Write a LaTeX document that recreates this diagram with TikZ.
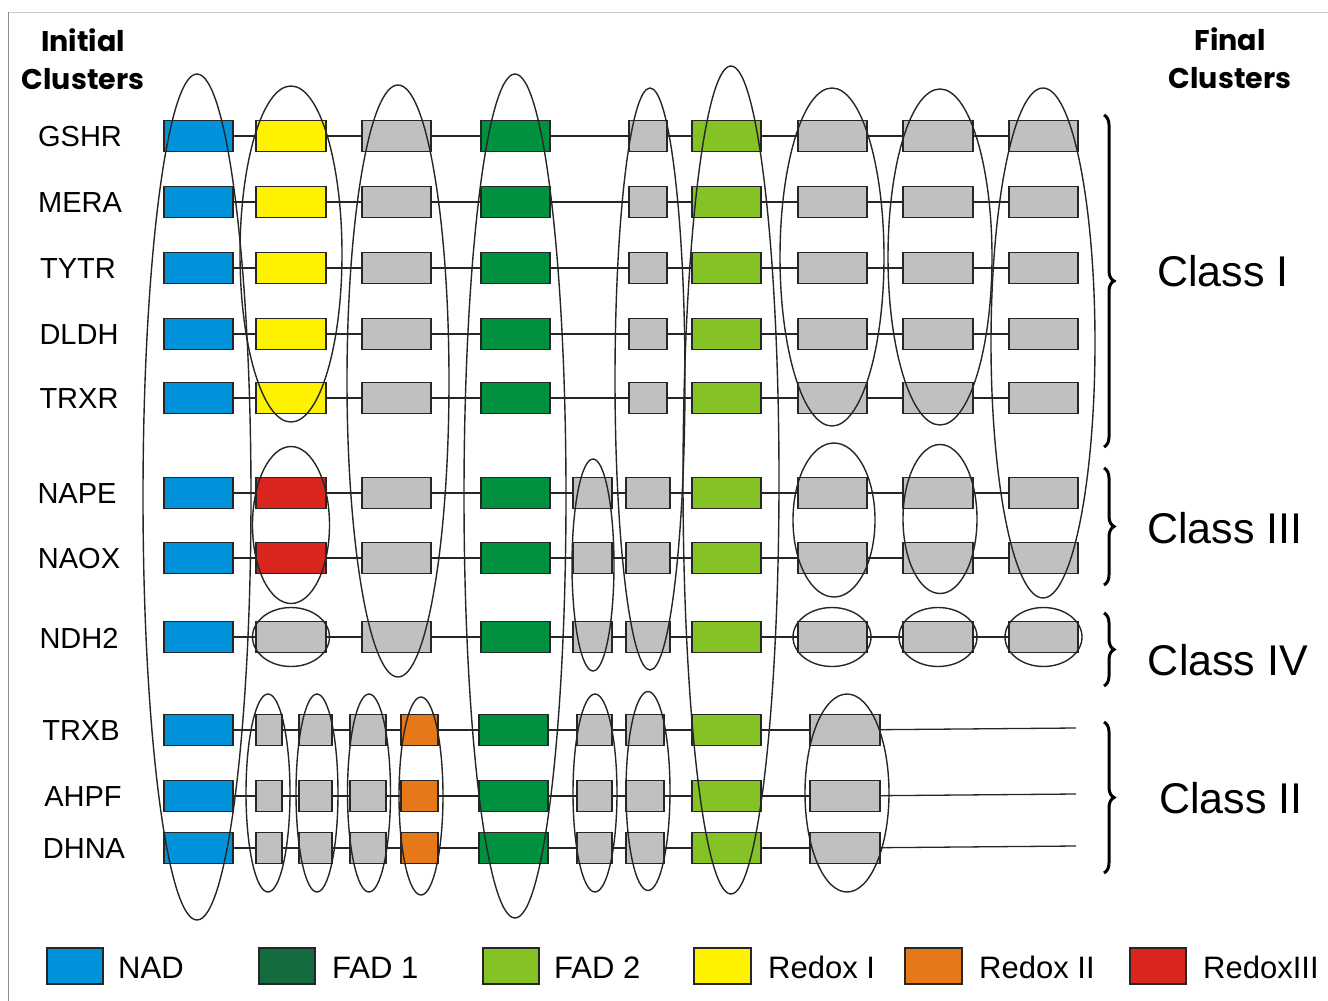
\documentclass[tikz,border=0pt]{standalone}
\usepackage{fontspec}
\setmainfont{Liberation Sans}
\newfontfamily\headfont{Poppins}
\usetikzlibrary{decorations.pathreplacing}

\definecolor{nadblue}{RGB}{0,146,218}
\definecolor{fadone}{RGB}{0,145,64}
\definecolor{fadonekey}{RGB}{20,108,62}
\definecolor{fadtwo}{RGB}{132,194,38}
\definecolor{redoxone}{RGB}{255,242,0}
\definecolor{redoxtwo}{RGB}{229,121,26}
\definecolor{redoxthree}{RGB}{217,37,29}
\definecolor{cellgrey}{RGB}{192,192,192}

\begin{document}
\begin{tikzpicture}[x=1pt, y=-1pt,
    cell/.style={rectangle, draw=black!85, line width=1.9pt, fill=#1, minimum height=31pt, inner sep=0pt},
    link/.style={draw=black!85, line width=1.3pt},
    cluster/.style={draw=black!85, line width=1.4pt},
    rowlabel/.style={font=\fontsize{29}{33}\selectfont, inner sep=0pt},
    classlabel/.style={font=\fontsize{43}{50}\selectfont, inner sep=0pt},
    headlabel/.style={font=\headfont\bfseries\fontsize{28.5}{38}\selectfont, align=center, inner sep=0pt},
    keybox/.style={rectangle, draw=black!85, line width=1.9pt, fill=#1, minimum width=56.5pt, minimum height=36pt, inner sep=0pt},
    keylabel/.style={font=\fontsize{31}{36}\selectfont, anchor=base west, inner sep=0pt},
    classbrace/.style={decorate, decoration={brace, amplitude=10pt}, line width=3pt},
  ]
  \useasboundingbox (0,0) rectangle (1328,1001);
  % frame
  \draw[black!20, line width=1pt] (8,12) -- (1328,12);
  \draw[black!45, line width=1pt] (8,12) -- (8,1001);

  % headings
  \node[headlabel] (initial) at (83,59) {Initial\\Clusters};
  \node[headlabel] (final) at (1230,58) {Final\\Clusters};

  % Class I rows
  \foreach \rn/\ry/\lx in {GSHR/136/80, MERA/202/80, TYTR/268/78, DLDH/334/79, TRXR/398/79} {
    \node[rowlabel] (\rn) at (\lx,\ry+1) {\rn};
    \foreach \cx/\cw/\cc [count=\i] in {198.5/69.5/nadblue, 291/70.5/redoxone, 396.5/69.5/cellgrey,
        515.5/69.5/fadone, 648/37.5/cellgrey, 726.5/69.5/fadtwo, 832.5/69.5/cellgrey,
        938/70.5/cellgrey, 1043.5/69.5/cellgrey}
      \node[cell=\cc, minimum width=\cw] (\rn-\i) at (\cx,\ry) {};
    \foreach \i [evaluate=\i as \j using int(\i+1)] in {1,...,8}
      \draw[link] (\rn-\i) -- (\rn-\j);
  }

  % Class III and IV rows
  \foreach \rn/\ry/\lx/\rc in {NAPE/493/77/redoxthree, NAOX/558/79/redoxthree, NDH2/637/79/cellgrey} {
    \node[rowlabel] (\rn) at (\lx,\ry+1) {\rn};
    \foreach \cx/\cw/\cc [count=\i] in {198.5/69.5/nadblue, 291/70.5/\rc, 396.5/69.5/cellgrey,
        515.5/69.5/fadone, 592.5/39.5/cellgrey, 648/44.5/cellgrey, 726.5/69.5/fadtwo,
        832.5/69.5/cellgrey, 938/70.5/cellgrey, 1043.5/69.5/cellgrey}
      \node[cell=\cc, minimum width=\cw] (\rn-\i) at (\cx,\ry) {};
    \foreach \i [evaluate=\i as \j using int(\i+1)] in {1,...,9}
      \draw[link] (\rn-\i) -- (\rn-\j);
  }

  % Class II rows
  \foreach \rn/\ry/\lx in {TRXB/730/81, AHPF/796/83, DHNA/848/84} {
    \node[rowlabel] (\rn) at (\lx,\ry+1) {\rn};
    \foreach \cx/\cw/\cc [count=\i] in {198.5/69.5/nadblue, 269/26.5/cellgrey, 315.5/33.5/cellgrey,
        368/36.5/cellgrey, 419.5/37.5/redoxtwo, 513.5/69.5/fadone, 594.5/35.5/cellgrey,
        645/38.5/cellgrey, 726.5/69.5/fadtwo, 845/70.5/cellgrey}
      \node[cell=\cc, minimum width=\cw] (\rn-\i) at (\cx,\ry) {};
    \foreach \i [evaluate=\i as \j using int(\i+1)] in {1,...,9}
      \draw[link] (\rn-\i) -- (\rn-\j);
    \coordinate (\rn-end) at (1076,\ry-2);
    \draw[link] (\rn-10) -- (\rn-end);
  }

  % clusters
  \foreach \ex/\ey/\erx/\ery in {197/497/54/423, 291/254/51/168, 398/381/51/296,
      515/496/51/422, 650/379/35/291, 731/480/48/414, 832/257/52/169,
      940/257/52/168, 1043/343/52/255,
      291/525/38.5/78.5, 593/565/21/106, 834/520/41/77, 940/519/37/74.5,
      291/637/38.5/29.5, 832/637/39/29.5, 938/637/39/29.5, 1043.5/637/38.5/29.5,
      268/793/22/99, 317/793/21/99, 369/793/21.5/99, 421/796/22/99,
      595/793/22/99, 648/791/22/99.5, 847/793/42/99}
    \draw[cluster] (\ex,\ey) ellipse ({\erx} and {\ery});

  % braces
  \draw[classbrace] (1104,115) -- (1104,447);
  \draw[classbrace] (1104,468) -- (1104,585);
  \draw[classbrace] (1104,613) -- (1104,686);
  \draw[classbrace] (1104,722) -- (1104,873);
  \node[classlabel] (classI) at (1223,271) {Class I};
  \node[classlabel] (classIII) at (1225,528) {Class III};
  \node[classlabel] (classIV) at (1228,660) {Class IV};
  \node[classlabel] (classII) at (1231,798) {Class II};

  % legend
  \foreach \kx/\kc/\tx/\kt in {75/nadblue/118/NAD, 287/fadonekey/332/FAD 1, 511/fadtwo/554/FAD 2,
      722.5/redoxone/768/Redox I, 933.5/redoxtwo/979/Redox II, 1158/redoxthree/1203/RedoxIII} {
    \node[keybox=\kc] (key-\kc) at (\kx,966) {};
    \node[keylabel] (text-\kc) at (\tx,978) {\kt};
  }
\end{tikzpicture}
\end{document}
